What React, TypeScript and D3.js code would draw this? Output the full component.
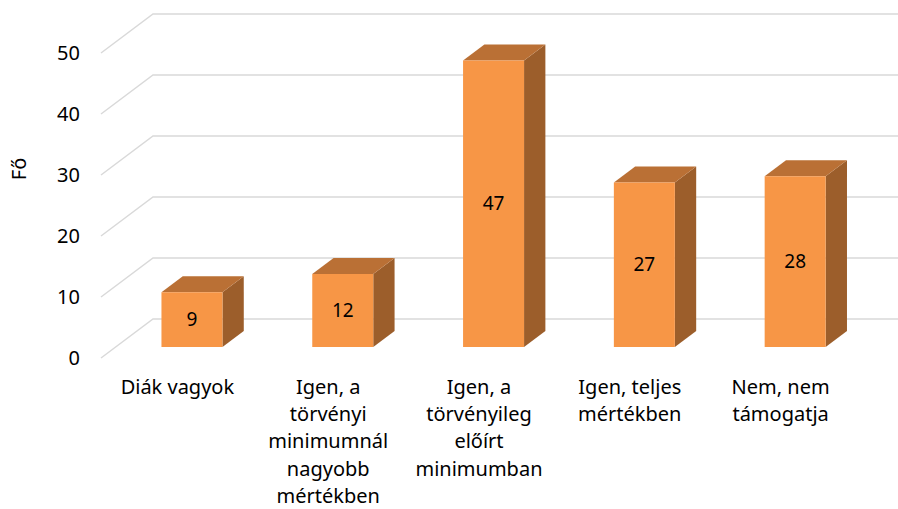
import React from "react";
import * as d3 from "d3";

// chart data
const categories = [
  "Diák vagyok",
  "Igen, a törvényi minimumnál nagyobb mértékben",
  "Igen, a törvényileg előírt minimumban",
  "Igen, teljes mértékben",
  "Nem, nem támogatja",
];
const categoryLines = [
  ["Diák vagyok"],
  ["Igen, a", "törvényi", "minimumnál", "nagyobb", "mértékben"],
  ["Igen, a", "törvényileg", "előírt", "minimumban"],
  ["Igen, teljes", "mértékben"],
  ["Nem, nem", "támogatja"],
];
const values = [9, 12, 47, 27, 28];
const yTicks = [0, 10, 20, 30, 40, 50];
const yTitle = "Fő";

const width = 898;
const height = 509;
const font = "'Noto Sans', 'Open Sans', sans-serif";

const App: React.FC = () => {
  // front plane of the 3d box
  const xScale = d3
    .scaleBand<string>()
    .domain(categories)
    .range([102, 102 + 5 * 150.8])
    .padding(0);
  const yScale = d3.scaleLinear().domain([0, 50]).range([358, 53]);

  // depth vector (front -> back wall)
  const depthX = 52;
  const depthY = -39;
  const project = (x: number, v: number, t: number): [number, number] => [
    x + depthX * t,
    yScale(v) + depthY * t,
  ];

  const barFront = 0.28;
  const barBack = 0.69;
  const halfW = 30.5;

  const poly = (pts: [number, number][]) => pts.map((p) => p.join(",")).join(" ");

  return (
    <svg
      width={width}
      height={height}
      style={{ position: "absolute", left: 0, top: 0, background: "#fff" }}
      fontFamily={font}
    >
      {/* gridlines: left wall diagonal + back wall */}
      <g stroke="#d9d9d9" strokeWidth={1.5} fill="none">
        {yTicks.map((t) => {
          const a = project(101, t, 0);
          const b = project(101, t, 1);
          return (
            <polyline key={t} points={poly([a, b, [width, b[1]]])} />
          );
        })}
      </g>

      {/* y axis labels */}
      <g fontSize={20} fill="#000" textAnchor="end">
        {yTicks.map((t) => (
          <text key={t} x={80} y={yScale(t)} dy="0.35em">
            {t}
          </text>
        ))}
      </g>
      <text
        transform={`translate(19,169) rotate(-90)`}
        textAnchor="middle"
        dy="0.35em"
        fontSize={20}
        fill="#000"
      >
        {yTitle}
      </text>

      {/* bars */}
      {categories.map((c, i) => {
        const v = values[i];
        const cx = xScale(c)! + xScale.bandwidth() / 2;
        const x0 = cx - halfW;
        const x1 = cx + halfW;
        const front = [
          project(x0, 0, barFront),
          project(x1, 0, barFront),
          project(x1, v, barFront),
          project(x0, v, barFront),
        ] as [number, number][];
        const top = [
          project(x0, v, barFront),
          project(x1, v, barFront),
          project(x1, v, barBack),
          project(x0, v, barBack),
        ] as [number, number][];
        const side = [
          project(x1, 0, barFront),
          project(x1, v, barFront),
          project(x1, v, barBack),
          project(x1, 0, barBack),
        ] as [number, number][];
        const [lx, ly0] = project(cx, 0, barFront);
        const ly1 = project(cx, v, barFront)[1];
        return (
          <g key={c}>
            <polygon points={poly(side)} fill="#9c5e2b" />
            <polygon points={poly(top)} fill="#ba7035" />
            <polygon points={poly(front)} fill="#f79646" />
            <text
              x={lx}
              y={(ly0 + ly1) / 2}
              dy="0.35em"
              textAnchor="middle"
              fontSize={19}
              fill="#000"
            >
              {v}
            </text>
          </g>
        );
      })}

      {/* category labels */}
      <g fontSize={20} fill="#000" textAnchor="middle">
        {categories.map((c, i) => (
          <text key={c} x={xScale(c)! + xScale.bandwidth() / 2} y={394}>
            {categoryLines[i].map((line, j) => (
              <tspan key={j} x={xScale(c)! + xScale.bandwidth() / 2} y={394 + j * 27.2}>
                {line}
              </tspan>
            ))}
          </text>
        ))}
      </g>
    </svg>
  );
};

export default App;
